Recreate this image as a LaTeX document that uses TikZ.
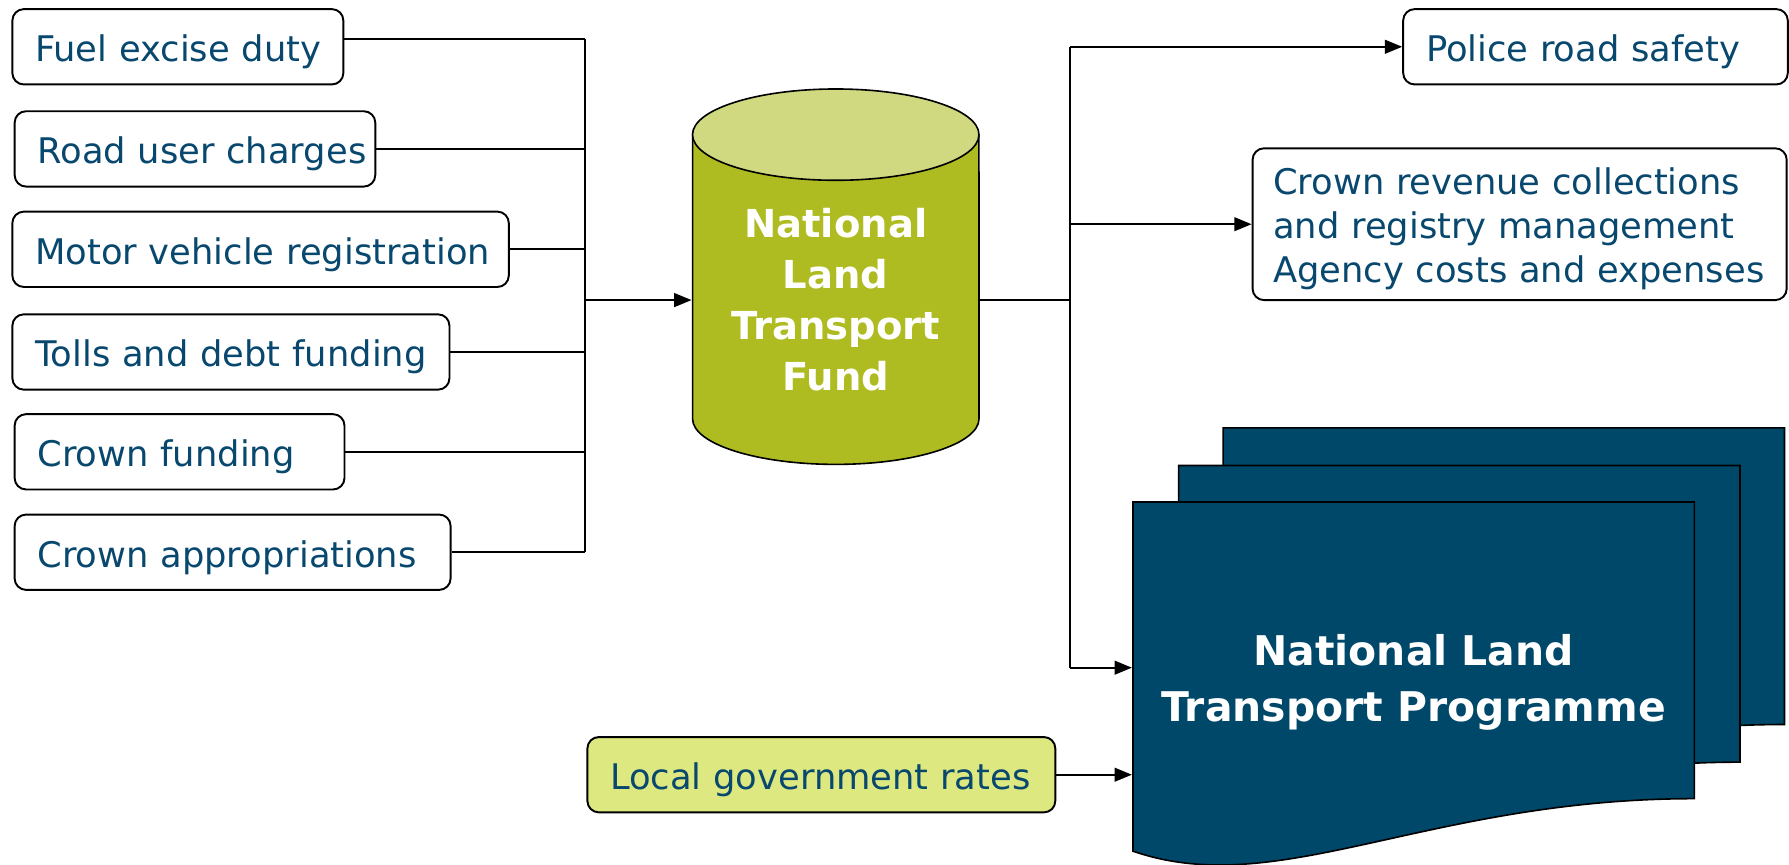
\documentclass[tikz,border=0pt]{standalone}
\usepackage{fontspec}
\setmainfont{DejaVu Sans}
\usepackage{xcolor}
\usepackage{tikz}
\usetikzlibrary{arrows.meta}
\usetikzlibrary{positioning}

\definecolor{nztblue}{RGB}{0,72,106}
\definecolor{nzttext}{RGB}{8,72,110}
\definecolor{fundbody}{RGB}{174,188,33}
\definecolor{fundtop}{RGB}{208,216,128}
\definecolor{ratesfill}{RGB}{222,232,128}

\begin{document}
\begin{tikzpicture}[
	x=0.025cm, y=0.025cm,
	line width=1.2pt,
	font=\fontsize{22}{27.7}\selectfont
]
\tikzset{
    srcbox/.style = {rectangle, rounded corners=0.25cm, draw=black, fill=white, anchor=west, align=left, text=nzttext, inner xsep=0pt, minimum height=1.65cm, text width=#1, execute at begin node={\hspace*{0.5cm}\rule[-0.21em]{0pt}{1.26em}}},
    listbox/.style = {rectangle, rounded corners=0.25cm, draw=black, anchor=west, align=left, text=nzttext, inner xsep=0.45cm, minimum height=3.325cm, text width=10.8cm, execute at begin node={\rule{0pt}{1.02em}}},
    fundtext/.style = {align=center, text=white, inner sep=0pt, minimum width=6.275cm, font=\fontsize{24}{31.8}\selectfont\bfseries},
    progtext/.style = {align=center, text=white, inner sep=0pt, minimum width=12.3cm, font=\fontsize{25.5}{34.9}\selectfont\bfseries},
    page/.style = {draw=black, fill=nztblue, line width=1pt},
    link/.style = {draw=black, line width=1.3pt},
    arrow/.style = {link, -{Triangle[length=0.38cm,width=0.3cm]}}
}
\useasboundingbox (0,0) rectangle (1568,-758);

\node[srcbox=7.25cm] (fuel) at (10,-41) {Fuel excise duty};
\node[srcbox=7.9cm] (road) at (12,-130.5) {Road user charges};
\node[srcbox=10.875cm] (motor) at (10,-218.5) {Motor vehicle registration};
\node[srcbox=9.575cm] (tolls) at (10,-308.5) {Tolls and debt funding};
\node[srcbox=7.225cm] (crownfund) at (12,-396) {Crown funding};
\node[srcbox=9.55cm] (approp) at (12,-484) {Crown appropriations};

% the fund
\draw[fill=fundbody, line width=1pt] (607,-118) -- (607,-367) arc[start angle=180, end angle=360, x radius=3.1375cm, y radius=1cm] -- (858,-118);
\draw[fill=fundtop, line width=1pt] (732.5,-118) ellipse [x radius=3.1375cm, y radius=1cm];
\node[fundtext] (fund) at (732.5,-263) {National\\Land\\Transport\\Fund};

\node[srcbox=8.425cm] (police) at (1229,-41) {Police road safety};
\node[listbox] (agency) at (1097,-196.5) {Crown revenue collections\\and registry management\\Agency costs and expenses};
\node[srcbox=10.25cm, fill=ratesfill] (rates) at (514,-679) {Local government rates};

% the programme
\draw[page, shift={(79,65)}] (993,-440) -- (1485,-440) -- (1485,-700) .. controls (1250,-700) and (1120,-790) .. (993,-746) -- cycle;
\draw[page, shift={(40,32)}] (993,-440) -- (1485,-440) -- (1485,-700) .. controls (1250,-700) and (1120,-790) .. (993,-746) -- cycle;
\draw[page] (993,-440) -- (1485,-440) -- (1485,-700) .. controls (1250,-700) and (1120,-790) .. (993,-746) -- cycle;
\node[progtext] (nltp) at (1239,-598) {National Land\\Transport Programme};

\coordinate (busL) at (513,-261);
\coordinate (busR) at (938,-261);
\coordinate (fueltap) at ([yshift=0.165cm]fuel.east);
\coordinate (nltpin) at ([yshift=0.32cm]nltp.west);

\draw[link] (fueltap) -- (fueltap -| busL);
\draw[link] (road.east) -- (road.east -| busL);
\draw[link] (motor.east) -- (motor.east -| busL);
\draw[link] (tolls.east) -- (tolls.east -| busL);
\draw[link] (crownfund.east) -- (crownfund.east -| busL);
\draw[link] (approp.east) -- (approp.east -| busL);
\draw[link] (fueltap -| busL) -- (approp.east -| busL);
\draw[arrow] (busL |- fund.west) -- (fund.west);

\draw[link] (fund.east) -- (fund.east -| busR);
\draw[link] (busR |- police.west) -- (busR |- nltpin);
\draw[arrow] (busR |- police.west) -- (police.west);
\draw[arrow] (busR |- agency.west) -- (agency.west);
\draw[arrow] (busR |- nltpin) -- (nltpin);
\draw[arrow] (rates.east) -- (rates.east -| nltp.west);
\end{tikzpicture}
\end{document}
